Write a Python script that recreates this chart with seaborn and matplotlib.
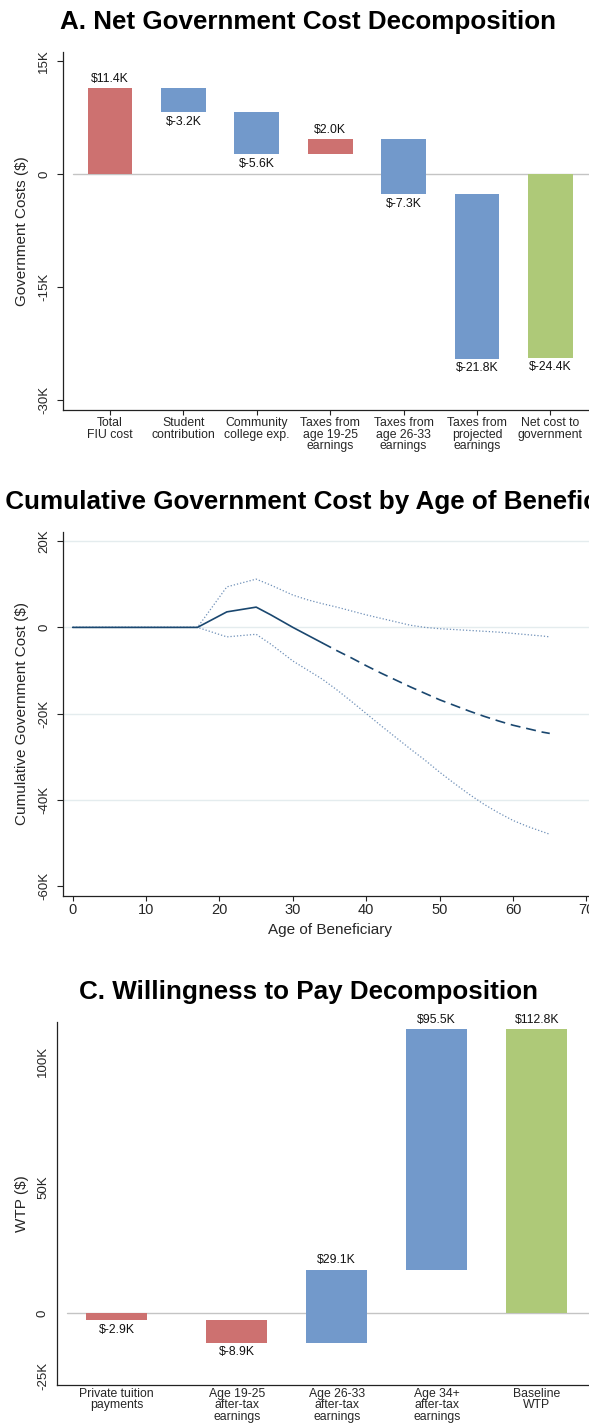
import matplotlib
matplotlib.use("Agg")
import matplotlib.pyplot as plt
import seaborn as sns
import pandas as pd

# ---------------- data ----------------
# Panel A: net government cost decomposition ($K)
a_categories = ["Total\nFIU cost", "Student\ncontribution", "Community\ncollege exp.",
                "Taxes from\nage 19-25\nearnings", "Taxes from\nage 26-33\nearnings",
                "Taxes from\nprojected\nearnings", "Net cost to\ngovernment"]
a_values = [11.4, -3.2, -5.6, 2.0, -7.3, -21.8, -24.4]
a_kind = ["up", "down", "down", "up", "down", "down", "total"]
a_yticks = [15, 0, -15, -30]

# Panel B: cumulative government cost by age ($K)
b_age = [0, 17, 21, 25, 27, 30, 32, 34, 36, 38, 40, 42, 44, 46, 48, 50,
         52, 54, 56, 58, 60, 62, 64, 65]
b_cost = [0, 0, 3.6, 4.7, 2.9, 0.0, -1.8, -3.6, -5.4, -7.1, -8.9, -10.6, -12.2,
          -13.8, -15.3, -16.8, -18.1, -19.4, -20.6, -21.7, -22.7, -23.5, -24.3, -24.6]
b_upper = [0, 0, 9.4, 11.2, 9.8, 7.5, 6.4, 5.5, 4.7, 3.8, 2.9, 2.1, 1.3,
           0.5, 0.0, -0.3, -0.5, -0.7, -0.9, -1.1, -1.4, -1.7, -2.0, -2.2]
b_lower = [0, 0, -2.2, -1.6, -3.9, -7.8, -9.9, -12.0, -14.5, -17.2, -20.0, -22.8,
           -25.5, -28.2, -30.8, -33.6, -36.2, -38.7, -41.0, -43.0, -44.8, -46.2, -47.4, -48.0]
b_observed_until = 34
b_yticks = [20, 0, -20, -40, -60]
b_xticks = [0, 10, 20, 30, 40, 50, 60, 70]

# Panel C: willingness to pay decomposition ($K)
c_categories = ["Private tuition\npayments", "Age 19-25\nafter-tax\nearnings",
                "Age 26-33\nafter-tax\nearnings", "Age 34+\nafter-tax\nearnings",
                "Baseline\nWTP"]
c_values = [-2.9, -8.9, 29.1, 95.5, 112.8]
c_kind = ["down", "down", "up", "up", "total"]
c_yticks = [100, 50, 0, -25]

# ---------------- style ----------------
sns.set_theme(style="white")
plt.rcParams["font.family"] = ["Liberation Sans", "DejaVu Sans"]

RED = "#cd7170"
BLUE = "#7299cb"
GREEN = "#aec978"
NAVY = "#1a476f"
CI = "#6f90b8"
SPINE = "#222222"

W, H = 589, 1423
fig = plt.figure(figsize=(W / 100, H / 100), dpi=100)


def px_axes(left, top, right, bottom):
    return fig.add_axes([left / W, 1 - bottom / H, (right - left) / W, (bottom - top) / H])


def style_axes(ax, yticklen=4.3, xticklen=3.3, yt=True, xt=True):
    sns.despine(ax=ax, top=True, right=True)
    for s in ("left", "bottom"):
        ax.spines[s].set_color(SPINE)
        ax.spines[s].set_linewidth(0.9)
    ax.tick_params(axis="y", which="both", left=yt, length=yticklen if yt else 0,
                   width=0.8, color=SPINE, direction="out", labelsize=9.5, pad=5 if yt else 6)
    ax.tick_params(axis="x", which="both", bottom=xt, length=xticklen if xt else 0,
                   width=0.8, color=SPINE, direction="out", labelsize=8.8, pad=2)
    for lab in ax.get_yticklabels():
        lab.set_rotation(90)
        lab.set_va("center")
    ax.grid(False)


def waterfall(ax, positions, values, kinds, colors, width, fmt):
    running = 0.0
    for x, v, k in zip(positions, values, kinds):
        if k == "total":
            start, end = 0.0, v
        else:
            start, end = running, running + v
            running = end
        lo, hi = min(start, end), max(start, end)
        ax.bar(x, hi - lo, bottom=lo, width=width, color=colors[k], linewidth=0, zorder=2)
        if v >= 0:
            ax.annotate(fmt(v), (x, hi), xytext=(0, 2.5), textcoords="offset points",
                        ha="center", va="bottom", fontsize=8.8, color="#111111")
        else:
            ax.annotate(fmt(v), (x, lo), xytext=(0, -2.5), textcoords="offset points",
                        ha="center", va="top", fontsize=8.8, color="#111111")


fmtK = lambda v: f"${v:.1f}K"
tick_fmt = lambda t: "0" if t == 0 else f"{t}K"
title_kw = dict(fontsize=18.7, fontweight="bold", ha="center", va="baseline", color="black")
TX = 308 / W

# ---------------- Panel A ----------------
axA = px_axes(63.3, 52, 597, 410)
posA = list(range(len(a_values)))
axA.set_xlim(-0.636, 6.635)
axA.set_ylim(-31.33, 16.2)
x0 = (posA[0] - 0.5 - (-0.636)) / (6.635 + 0.636)
axA.axhline(0, xmin=x0, xmax=1, color="#c4c4c4", linewidth=1.0, zorder=1)
waterfall(axA, posA, a_values, a_kind, {"up": RED, "down": BLUE, "total": GREEN}, 0.61, fmtK)
# thin marker of the 19-25 tax bar at the zero line
axA.bar(posA[3], 0.12, bottom=-0.06, width=0.61, color=RED, linewidth=0, zorder=2)
axA.set_xticks(posA)
axA.set_xticklabels(a_categories, linespacing=0.95)
axA.set_yticks(a_yticks)
axA.set_yticklabels([tick_fmt(t) for t in a_yticks])
style_axes(axA)
axA.set_ylabel("Government Costs ($)", fontsize=11)
axA.yaxis.label.set_verticalalignment("center")
axA.yaxis.set_label_coords((22 - 63.3) / (597 - 63.3), 0.5)
fig.text(TX, 1 - 29.5 / H, "A. Net Government Cost Decomposition", **title_kw)

# ---------------- Panel B ----------------
axB = px_axes(63.3, 531.7, 596, 895.7)
axB.set_xlim(-1.28, 71.3)
axB.set_ylim(-62.25, 22.2)
for g in b_yticks[:-1]:
    axB.axhline(g, color="#e4ecee", linewidth=1.0, zorder=0)
dfB = pd.DataFrame({"age": b_age, "cost": b_cost, "upper": b_upper, "lower": b_lower})
obs = dfB[dfB["age"] <= b_observed_until]
proj = dfB[dfB["age"] >= b_observed_until]
sns.lineplot(data=dfB, x="age", y="upper", ax=axB, color=CI, linewidth=0.9,
             linestyle=(0, (1, 1.6)), zorder=2)
sns.lineplot(data=dfB, x="age", y="lower", ax=axB, color=CI, linewidth=0.9,
             linestyle=(0, (1, 1.6)), zorder=2)
sns.lineplot(data=obs, x="age", y="cost", ax=axB, color=NAVY, linewidth=1.2, zorder=3)
sns.lineplot(data=proj, x="age", y="cost", ax=axB, color=NAVY, linewidth=1.2,
             linestyle=(0, (6, 3.5)), zorder=3)
axB.set_xticks(b_xticks)
axB.set_xticklabels([str(t) for t in b_xticks])
axB.set_yticks(b_yticks)
axB.set_yticklabels([tick_fmt(t) for t in b_yticks])
style_axes(axB)
axB.tick_params(axis="x", labelsize=10.5)
axB.set_xlabel("Age of Beneficiary", fontsize=11, labelpad=4)
axB.set_ylabel("Cumulative Government Cost ($)", fontsize=11)
axB.yaxis.label.set_verticalalignment("center")
axB.yaxis.set_label_coords((22 - 63.3) / (596 - 63.3), 0.5)
fig.text(TX, 1 - 509 / H, "B. Cumulative Government Cost by Age of Beneficiary", **title_kw)

# ---------------- Panel C ----------------
axC = px_axes(57.3, 1021.7, 597, 1385)
posC = [0, 1.2, 2.2, 3.2, 4.2]
axC.set_xlim(-0.594, 4.803)
axC.set_ylim(-28.6, 115.9)
x0c = (posC[0] - 0.5 - (-0.594)) / (4.803 + 0.594)
axC.axhline(0, xmin=x0c, xmax=1, color="#c4c4c4", linewidth=1.0, zorder=1)
waterfall(axC, posC, c_values, c_kind, {"up": BLUE, "down": RED, "total": GREEN}, 0.61, fmtK)
axC.set_xticks(posC)
axC.set_xticklabels(c_categories, linespacing=0.95)
axC.set_yticks(c_yticks)
axC.set_yticklabels([tick_fmt(t) for t in c_yticks])
style_axes(axC, yt=False, xt=False)
axC.set_ylabel("WTP ($)", fontsize=11)
axC.yaxis.label.set_verticalalignment("center")
axC.yaxis.set_label_coords((22 - 57.3) / (597 - 57.3), 0.5)
fig.text(TX, 1 - 999 / H, "C. Willingness to Pay Decomposition", **title_kw)

fig.savefig("out.png", dpi=100)
